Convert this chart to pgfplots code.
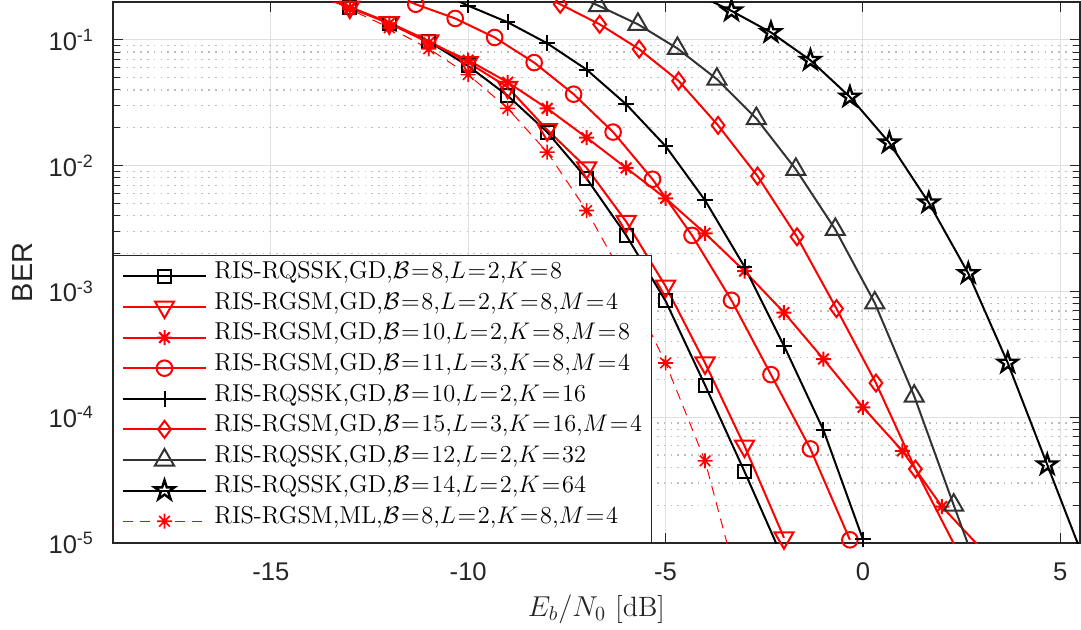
\documentclass[border=0pt]{standalone}
\usepackage{pgfplots}
\pgfplotsset{compat=1.18}
\usepackage{fontspec}
\newfontfamily\hel{Liberation Sans}
\usetikzlibrary{plotmarks}
\newcommand\eq{\kern0.85pt=\kern0.85pt}
\definecolor{tc}{HTML}{262626}
\definecolor{gridc}{HTML}{DFDFDF}
\definecolor{mgrid}{HTML}{BDBDBD}
\definecolor{mred}{rgb}{1,0,0}
\definecolor{dg}{HTML}{333333}
\pgfdeclareplotmark{mast}{%
  \pgfpathmoveto{\pgfqpoint{0pt}{\pgfplotmarksize}}\pgfpathlineto{\pgfqpoint{0pt}{-\pgfplotmarksize}}%
  \pgfpathmoveto{\pgfqpoint{\pgfplotmarksize}{0pt}}\pgfpathlineto{\pgfqpoint{-\pgfplotmarksize}{0pt}}%
  \pgfpathmoveto{\pgfpoint{0.707\pgfplotmarksize}{0.707\pgfplotmarksize}}\pgfpathlineto{\pgfpoint{-0.707\pgfplotmarksize}{-0.707\pgfplotmarksize}}%
  \pgfpathmoveto{\pgfpoint{-0.707\pgfplotmarksize}{0.707\pgfplotmarksize}}\pgfpathlineto{\pgfpoint{0.707\pgfplotmarksize}{-0.707\pgfplotmarksize}}%
  \pgfusepathqstroke}
\pgfdeclareplotmark{pstar}{%
  \pgfpathmoveto{\pgfpointpolar{90}{\pgfplotmarksize}}%
  \pgfpathlineto{\pgfpointpolar{126}{0.382\pgfplotmarksize}}%
  \pgfpathlineto{\pgfpointpolar{162}{\pgfplotmarksize}}%
  \pgfpathlineto{\pgfpointpolar{198}{0.382\pgfplotmarksize}}%
  \pgfpathlineto{\pgfpointpolar{234}{\pgfplotmarksize}}%
  \pgfpathlineto{\pgfpointpolar{270}{0.382\pgfplotmarksize}}%
  \pgfpathlineto{\pgfpointpolar{306}{\pgfplotmarksize}}%
  \pgfpathlineto{\pgfpointpolar{342}{0.382\pgfplotmarksize}}%
  \pgfpathlineto{\pgfpointpolar{18}{\pgfplotmarksize}}%
  \pgfpathlineto{\pgfpointpolar{54}{0.382\pgfplotmarksize}}%
  \pgfpathclose\pgfusepathqstroke}
\begin{document}
\begin{tikzpicture}
\path[use as bounding box] (-56.5pt,-43.5pt) rectangle (484pt,271.5pt);
\begin{axis}[
  scale only axis, width=483.5pt, height=270.5pt,
  at={(0pt,0pt)}, anchor=south west,
  xmin=-19, xmax=5.5, ymode=log, ymin=1e-5, ymax=0.2,
  xtick={-15,-10,-5,0,5}, xticklabels={-15,-10,-5,0,5},
  minor x tick num=0,
  ytick={1e-5,1e-4,1e-3,1e-2,1e-1},
  yticklabels={10\textsuperscript{-5},10\textsuperscript{-4},10\textsuperscript{-3},10\textsuperscript{-2},10\textsuperscript{-1}},
  tick align=inside,
  major tick length=4.8pt, minor tick length=3.5pt,
  tick style={draw=tc, line width=0.5pt},
  ticklabel style={font=\hel\fontsize{12.8}{14}\selectfont, text=tc},
  xticklabel style={yshift=-6.5pt},
  yticklabel style={xshift=-6pt},
  axis line style={draw=tc, line width=0.6pt},
  xmajorgrids, ymajorgrids, yminorgrids,
  major grid style={draw=gridc, line width=0.5pt},
  minor grid style={draw=mgrid, line width=0.6pt, dash pattern=on 0.8pt off 2.6pt},
  xlabel={$E_b/N_0$ [dB]},
  xlabel style={font=\fontsize{14}{16}\selectfont, text=tc, yshift=0pt},
  ylabel={BER},
  ylabel style={font=\hel\fontsize{14.5}{16}\selectfont, text=tc, xshift=0pt, yshift=1pt},
  legend style={at={(0,0)}, anchor=south west, draw=tc, line width=0.5pt, fill=white,
    font=\fontsize{12.2}{14}\selectfont, inner xsep=4.5pt, inner ysep=3pt,
    row sep=0pt, nodes={inner sep=0pt, text height=8.8pt, text depth=6.5pt},
    /tikz/every odd column/.append style={column sep=4pt}},
  legend cell align=left,
  legend image code/.code={\draw[mark repeat=2,mark phase=2,#1] plot coordinates {(0pt,0pt) (20.5pt,0pt) (41pt,0pt)};},
  every axis plot/.append style={line width=1pt},
]
\addplot[black, mark=square, mark size=3.25pt] coordinates {
(-14,0.24) (-13,0.182) (-12,0.136) (-11,0.097) (-10,0.062) (-9,0.036) (-8,0.0185) (-7,0.0079) (-6,0.0028) (-5,8.4e-4) (-4,1.8e-4) (-3,3.7e-5) (-2,7.2e-6)};
\addlegendentry{RIS-RQSSK,GD,$\mathcal{B}$\eq8,$L$\eq2,$K$\eq8}
\addplot[mred, mark=triangle, mark options={rotate=180}, mark size=5.5pt] coordinates {
(-14,0.24) (-13,0.182) (-12,0.137) (-11,0.098) (-10,0.066) (-9,0.042) (-8,0.0193) (-7,0.0096) (-6,0.0036) (-5,0.0011) (-4,2.7e-4) (-3,5.9e-5) (-2,1.1e-5)};
\addlegendentry{RIS-RGSM,GD,$\mathcal{B}$\eq8,$L$\eq2,$K$\eq8,$M$\eq4}
\addplot[mred, mark=mast, mark size=3.75pt] coordinates {
(-14,0.24) (-13,0.18) (-12,0.135) (-11,0.095) (-10,0.069) (-9,0.046) (-8,0.0285) (-7,0.0167) (-6,0.0096) (-5,0.0055) (-4,0.0029) (-3,0.00145) (-2,6.8e-4) (-1,2.9e-4) (0,1.2e-4) (1,5.4e-5) (2,1.95e-5) (3,9e-6)};
\addlegendentry{RIS-RGSM,GD,$\mathcal{B}$\eq10,$L$\eq2,$K$\eq8,$M$\eq8}
\addplot[mred, mark=o, mark size=3.9pt] coordinates {
(-12.33,0.26) (-11.33,0.192) (-10.33,0.148) (-9.33,0.1045) (-8.33,0.066) (-7.33,0.037) (-6.33,0.0185) (-5.33,0.0078) (-4.33,0.00279) (-3.33,8.5e-4) (-2.33,2.18e-4) (-1.33,5.6e-5) (-0.33,1.06e-5)};
\addlegendentry{RIS-RGSM,GD,$\mathcal{B}$\eq11,$L$\eq3,$K$\eq8,$M$\eq4}
\addplot[black, mark=+, mark size=3.9pt] coordinates {
(-11,0.26) (-10,0.187) (-9,0.138) (-8,0.094) (-7,0.058) (-6,0.0308) (-5,0.0143) (-4,0.0053) (-3,0.00157) (-2,3.7e-4) (-1,7.9e-5) (0,1.07e-5)};
\addlegendentry{RIS-RQSSK,GD,$\mathcal{B}$\eq10,$L$\eq2,$K$\eq16}
\addplot[mred, mark=diamond, mark size=4.25pt] coordinates {
(-8.67,0.27) (-7.67,0.192) (-6.67,0.133) (-5.67,0.0844) (-4.67,0.0472) (-3.67,0.0209) (-2.67,0.00826) (-1.67,0.00272) (-0.67,7.3e-4) (0.33,1.87e-4) (1.33,3.87e-5) (2.33,9.5e-6)};
\addlegendentry{RIS-RGSM,GD,$\mathcal{B}$\eq15,$L$\eq3,$K$\eq16,$M$\eq4}
\addplot[dg, mark=triangle, mark size=5.5pt] coordinates {
(-7.7,0.26) (-6.7,0.187) (-5.7,0.133) (-4.7,0.0855) (-3.7,0.0487) (-2.7,0.0237) (-1.7,0.00935) (-0.7,0.00311) (0.3,8.1e-4) (1.3,1.47e-4) (2.3,2.0e-5) (3.3,2.8e-6)};
\addlegendentry{RIS-RQSSK,GD,$\mathcal{B}$\eq12,$L$\eq2,$K$\eq32}
\addplot[black, mark=pstar, mark size=5.2pt, mark options={line width=1.2pt}] coordinates {
(-4.33,0.24) (-3.33,0.170) (-2.33,0.1146) (-1.33,0.0689) (-0.33,0.0352) (0.67,0.0152) (1.67,0.00507) (2.67,0.00139) (3.67,2.7e-4) (4.67,4.19e-5) (5.67,6.5e-6)};
\addlegendentry{RIS-RQSSK,GD,$\mathcal{B}$\eq14,$L$\eq2,$K$\eq64}
\addplot[mred, line width=0.5pt, dash pattern=on 5pt off 3.5pt, mark=mast, mark size=3.75pt, mark options={solid, line width=0.8pt}] coordinates {
(-14,0.24) (-13,0.175) (-12,0.125) (-11,0.085) (-10,0.053) (-9,0.0285) (-8,0.0128) (-7,0.0044) (-6,0.0012) (-5,2.7e-4) (-4,4.5e-5) (-3,3e-6)};
\addlegendentry{RIS-RGSM,ML,$\mathcal{B}$\eq8,$L$\eq2,$K$\eq8,$M$\eq4}
\end{axis}
\end{tikzpicture}
\end{document}
